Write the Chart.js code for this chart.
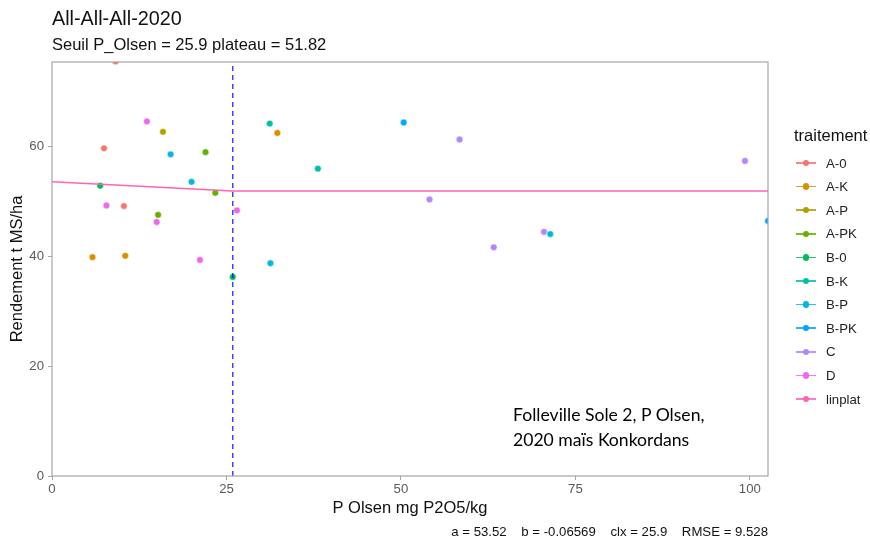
<!DOCTYPE html>
<html><head><meta charset="utf-8">
<script src="https://cdn.jsdelivr.net/npm/chart.js@4.4.1/dist/chart.umd.min.js"></script>
<style>
html,body{margin:0;padding:0;background:#fff;}
#wrap{position:relative;width:870px;height:539px;font-family:"Liberation Sans",Arial,sans-serif;}
#c{position:absolute;left:0;top:0;}
.t{position:absolute;white-space:pre;line-height:1;}
</style></head><body>
<div id="wrap">
<canvas id="c" width="870" height="539"></canvas>
<div class="t" id="title" style="left:52px;top:9px;font-size:19.8px;color:#111;">All-All-All-2020</div>
<div class="t" id="sub" style="left:52px;top:35.5px;font-size:16.5px;color:#111;">Seuil P_Olsen = 25.9 plateau = 51.82</div>
<div class="t" id="note" style="left:513px;top:402px;font-family:Lato,'Open Sans',sans-serif;font-size:17.6px;line-height:25px;color:#000;">Folleville Sole 2, P Olsen,
2020 maïs Konkordans</div>
<div class="t" id="cap" style="right:102px;top:524.5px;font-size:13.2px;color:#111;"></div>
<div id="legend"></div>
</div>
<script>
// ---- data ----
const treatments = ["A-0","A-K","A-P","A-PK","B-0","B-K","B-P","B-PK","C","D"];
const colors = ["#F8766D","#DB8E00","#AEA200","#64B200","#00BD5C","#00C1A7","#00BADE","#00A6FF","#B385FF","#EF67EB"];
const A0_x = [9.1, 7.45, 10.3];            const A0_y = [75.4, 59.6, 49.1];
const AK_x = [32.3, 5.8, 10.5];            const AK_y = [62.4, 39.8, 40.05];
const AP_x = [15.9];                       const AP_y = [62.6];
const APK_x = [22.0, 23.4, 15.2];          const APK_y = [58.9, 51.5, 47.5];
const B0_x = [6.9, 25.9];                  const B0_y = [52.8, 36.2];
const BK_x = [31.2, 38.1];                 const BK_y = [64.1, 55.9];
const BP_x = [17.0, 20.0, 31.3, 71.4];     const BP_y = [58.5, 53.5, 38.7, 44.0];
const BPK_x = [50.4, 102.6];               const BPK_y = [64.3, 46.4];
const C_x = [58.4, 54.1, 63.3, 70.5, 99.3]; const C_y = [61.2, 50.3, 41.6, 44.4, 57.3];
const D_x = [13.6, 7.8, 26.5, 15.0, 21.2]; const D_y = [64.5, 49.2, 48.3, 46.2, 39.3];
const seriesX = [A0_x, AK_x, AP_x, APK_x, B0_x, BK_x, BP_x, BPK_x, C_x, D_x];
const seriesY = [A0_y, AK_y, AP_y, APK_y, B0_y, BK_y, BP_y, BPK_y, C_y, D_y];
// linear-plateau fit
const linplat_x = [0, 25.9, 110];
const linplat_y = [53.52, 51.82, 51.82];
const linplatColor = "#FF63B6";
const threshold_x = [25.9, 25.9];
const threshold_y = [0, 80];
const xTicks = [0, 25, 50, 75, 100];
const yTicks = [0, 20, 40, 60];
const xMin = 0, xMax = 102.6, yMin = 0, yMax = 75.3;
const captionParts = ["a = 53.52", "b = -0.06569", "clx = 25.9", "RMSE = 9.528"];

const zip = (xs, ys) => xs.map((x, i) => ({x: x, y: ys[i]}));

const datasets = [];
datasets.push({
  type: 'line', label: 'seuil', data: zip(threshold_x, threshold_y),
  borderColor: 'rgba(0,0,255,0.75)', borderWidth: 1.5, borderDash: [5, 4],
  pointRadius: 0, fill: false, clip: 0, order: 1
});
datasets.push({
  type: 'line', label: 'linplat', data: zip(linplat_x, linplat_y),
  borderColor: linplatColor, borderWidth: 1.5, pointRadius: 0, fill: false,
  tension: 0, clip: 0, order: 2
});
treatments.forEach((t, i) => {
  datasets.push({
    type: 'scatter', label: t, data: zip(seriesX[i], seriesY[i]),
    backgroundColor: colors[i], borderColor: '#ffffff', borderWidth: 0.6,
    pointRadius: 3.4, pointHoverRadius: 3.4, clip: 0, order: 3
  });
});

const tickColor = '#5a5a5a';
const borderPlugin = {
  id: 'panelBorder',
  afterDraw(chart) {
    const a = chart.chartArea, ctx = chart.ctx;
    ctx.save();
    ctx.strokeStyle = '#a6a6a6';
    ctx.lineWidth = 1.2;
    ctx.strokeRect(a.left, a.top, a.right - a.left, a.bottom - a.top);
    ctx.restore();
  }
};

new Chart(document.getElementById('c'), {
  data: { datasets: datasets },
  options: {
    responsive: false, animation: false, devicePixelRatio: 1,
    layout: { padding: { left: 4, top: 62, right: 102, bottom: 17 } },
    plugins: { legend: { display: false }, tooltip: { enabled: false } },
    scales: {
      x: {
        type: 'linear', min: xMin, max: xMax,
        afterBuildTicks: s => { s.ticks = xTicks.map(v => ({value: v})); },
        afterFit: s => { s.height = 46; },
        grid: { drawOnChartArea: false, color: '#a6a6a6', tickLength: 4 },
        border: { display: false },
        ticks: { color: tickColor, font: { family: 'Liberation Sans', size: 13.2 }, padding: 1, maxRotation: 0 },
        title: { display: true, text: 'P Olsen mg P2O5/kg', color: '#111',
                 font: { family: 'Liberation Sans', size: 16.5 }, padding: { top: 4, bottom: 4 } }
      },
      y: {
        type: 'linear', min: yMin, max: yMax,
        afterBuildTicks: s => { s.ticks = yTicks.map(v => ({value: v})); },
        afterFit: s => { s.width = 48; },
        grid: { drawOnChartArea: false, color: '#a6a6a6', tickLength: 4 },
        border: { display: false },
        ticks: { color: tickColor, font: { family: 'Liberation Sans', size: 13.2 }, padding: 4 },
        title: { display: true, text: 'Rendement t MS/ha', color: '#111',
                 font: { family: 'Liberation Sans', size: 16.5 }, padding: { top: 4, bottom: 4 } }
      }
    }
  },
  plugins: [borderPlugin]
});

// ---- caption ----
document.getElementById('cap').textContent = captionParts.join('    ');

// ---- legend (HTML) ----
const legend = document.getElementById('legend');
const lt = document.createElement('div');
lt.className = 't'; lt.textContent = 'traitement';
lt.style.cssText = 'left:794px;top:127px;font-size:16.5px;color:#111;';
legend.appendChild(lt);
const legItems = treatments.concat(['linplat']);
const legColors = colors.concat([linplatColor]);
legItems.forEach((name, i) => {
  const yc = 163 + i * 23.6;
  const line = document.createElement('div');
  line.style.cssText = `position:absolute;left:796px;top:${yc - 0.75}px;width:20px;height:1.5px;background:${legColors[i]};opacity:0.85`;
  const dot = document.createElement('div');
  dot.style.cssText = `position:absolute;left:${806 - 3.3}px;top:${yc - 3.3}px;width:6.6px;height:6.6px;border-radius:50%;background:${legColors[i]}`;
  const lab = document.createElement('div');
  lab.className = 't'; lab.textContent = name;
  lab.style.cssText = `left:826px;top:${yc - 6.5}px;font-size:13.2px;color:#222;`;
  legend.appendChild(line); legend.appendChild(dot); legend.appendChild(lab);
});
</script>
</body></html>
